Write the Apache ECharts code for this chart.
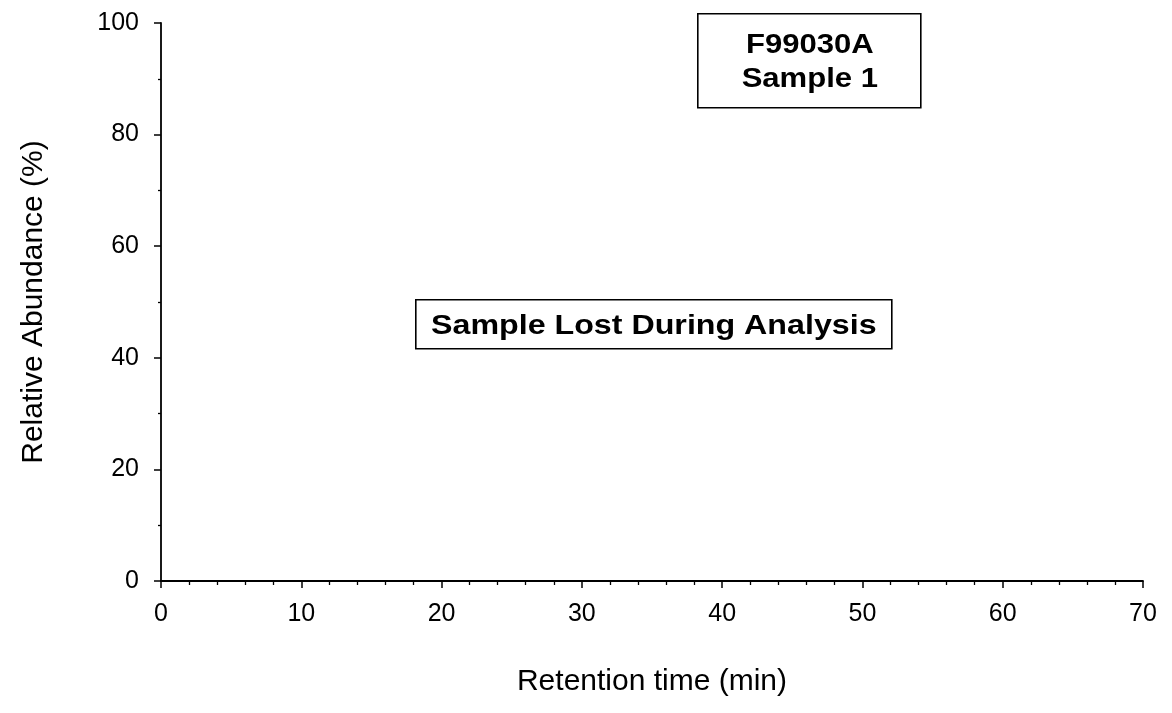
<!DOCTYPE html>
<html>
<head>
<meta charset="utf-8">
<title>F99030A Sample 1</title>
<script src="https://cdn.jsdelivr.net/npm/echarts@6/dist/echarts.min.js"></script>
<style>
  html, body { margin: 0; padding: 0; background: #ffffff; }
  #chart { width: 1172px; height: 713px; }
</style>
</head>
<body>
<div id="chart"></div>
<script>
// Chromatogram data: the sample was lost, so the trace holds no points.
const retentionTime = [];          // minutes
const relativeAbundance = [];      // percent
const xRange = [0, 70];
const yRange = [0, 100];
const sampleLabel = ['F99030A', 'Sample 1'];
const statusNote = 'Sample Lost During Analysis';
const xAxisTitle = 'Retention time (min)';
const yAxisTitle = 'Relative Abundance (%)';

const FONT = 'Arial, "Liberation Sans", sans-serif';
const chart = echarts.init(document.getElementById('chart'), null, { renderer: 'canvas' });

const axisCommon = {
  type: 'value',
  nameLocation: 'middle',
  nameTextStyle: { fontFamily: FONT, fontSize: 30, color: '#000' },
  axisLine: { show: true, onZero: false, lineStyle: { color: '#000', width: 1.8 } },
  axisTick: { show: true, inside: false, length: 7, lineStyle: { color: '#000', width: 1.5 } },
  minorTick: { show: true, length: 4, lineStyle: { color: '#000', width: 1.3 } },
  axisLabel: { fontFamily: FONT, fontSize: 25, color: '#000' },
  splitLine: { show: false },
  minorSplitLine: { show: false }
};

// Boxed annotation text, slightly widened like the printed label face
function boxText(x, y, text, size) {
  return {
    type: 'text', x: x, y: y, scaleX: 1.15, scaleY: 1,
    style: { text: text, fill: '#000', font: 'bold ' + size + 'px ' + FONT,
             textAlign: 'center', textVerticalAlign: 'middle' }
  };
}

chart.setOption({
  animation: false,
  backgroundColor: '#ffffff',
  grid: { left: 161, right: 29, top: 23, bottom: 132, containLabel: false },
  xAxis: Object.assign({}, axisCommon, {
    min: xRange[0], max: xRange[1], interval: 10,
    name: xAxisTitle, nameGap: 86,
    minorTick: Object.assign({}, axisCommon.minorTick, { splitNumber: 5 }),
    axisLabel: Object.assign({}, axisCommon.axisLabel, { margin: 21 })
  }),
  yAxis: Object.assign({}, axisCommon, {
    min: yRange[0], max: yRange[1], interval: 20,
    name: yAxisTitle, nameGap: 112,
    minorTick: Object.assign({}, axisCommon.minorTick, { splitNumber: 2, length: 3 }),
    axisLabel: Object.assign({}, axisCommon.axisLabel, { margin: 22 })
  }),
  series: [{
    type: 'line',
    data: retentionTime.map((t, i) => [t, relativeAbundance[i]]),
    showSymbol: false,
    lineStyle: { color: '#000', width: 1 }
  }],
  graphic: [
    {
      type: 'group', left: 697, top: 13,
      children: [
        { type: 'rect', shape: { x: 0, y: 0, width: 223, height: 94 },
          style: { fill: '#fff', stroke: '#000', lineWidth: 1.6 } },
        boxText(112, 32, sampleLabel[0], 27),
        boxText(112, 66, sampleLabel[1], 27)
      ]
    },
    {
      type: 'group', left: 415, top: 299,
      children: [
        { type: 'rect', shape: { x: 0, y: 0, width: 476, height: 49 },
          style: { fill: '#fff', stroke: '#000', lineWidth: 1.6 } },
        boxText(238, 26, statusNote, 28)
      ]
    }
  ]
});
</script>
</body>
</html>
